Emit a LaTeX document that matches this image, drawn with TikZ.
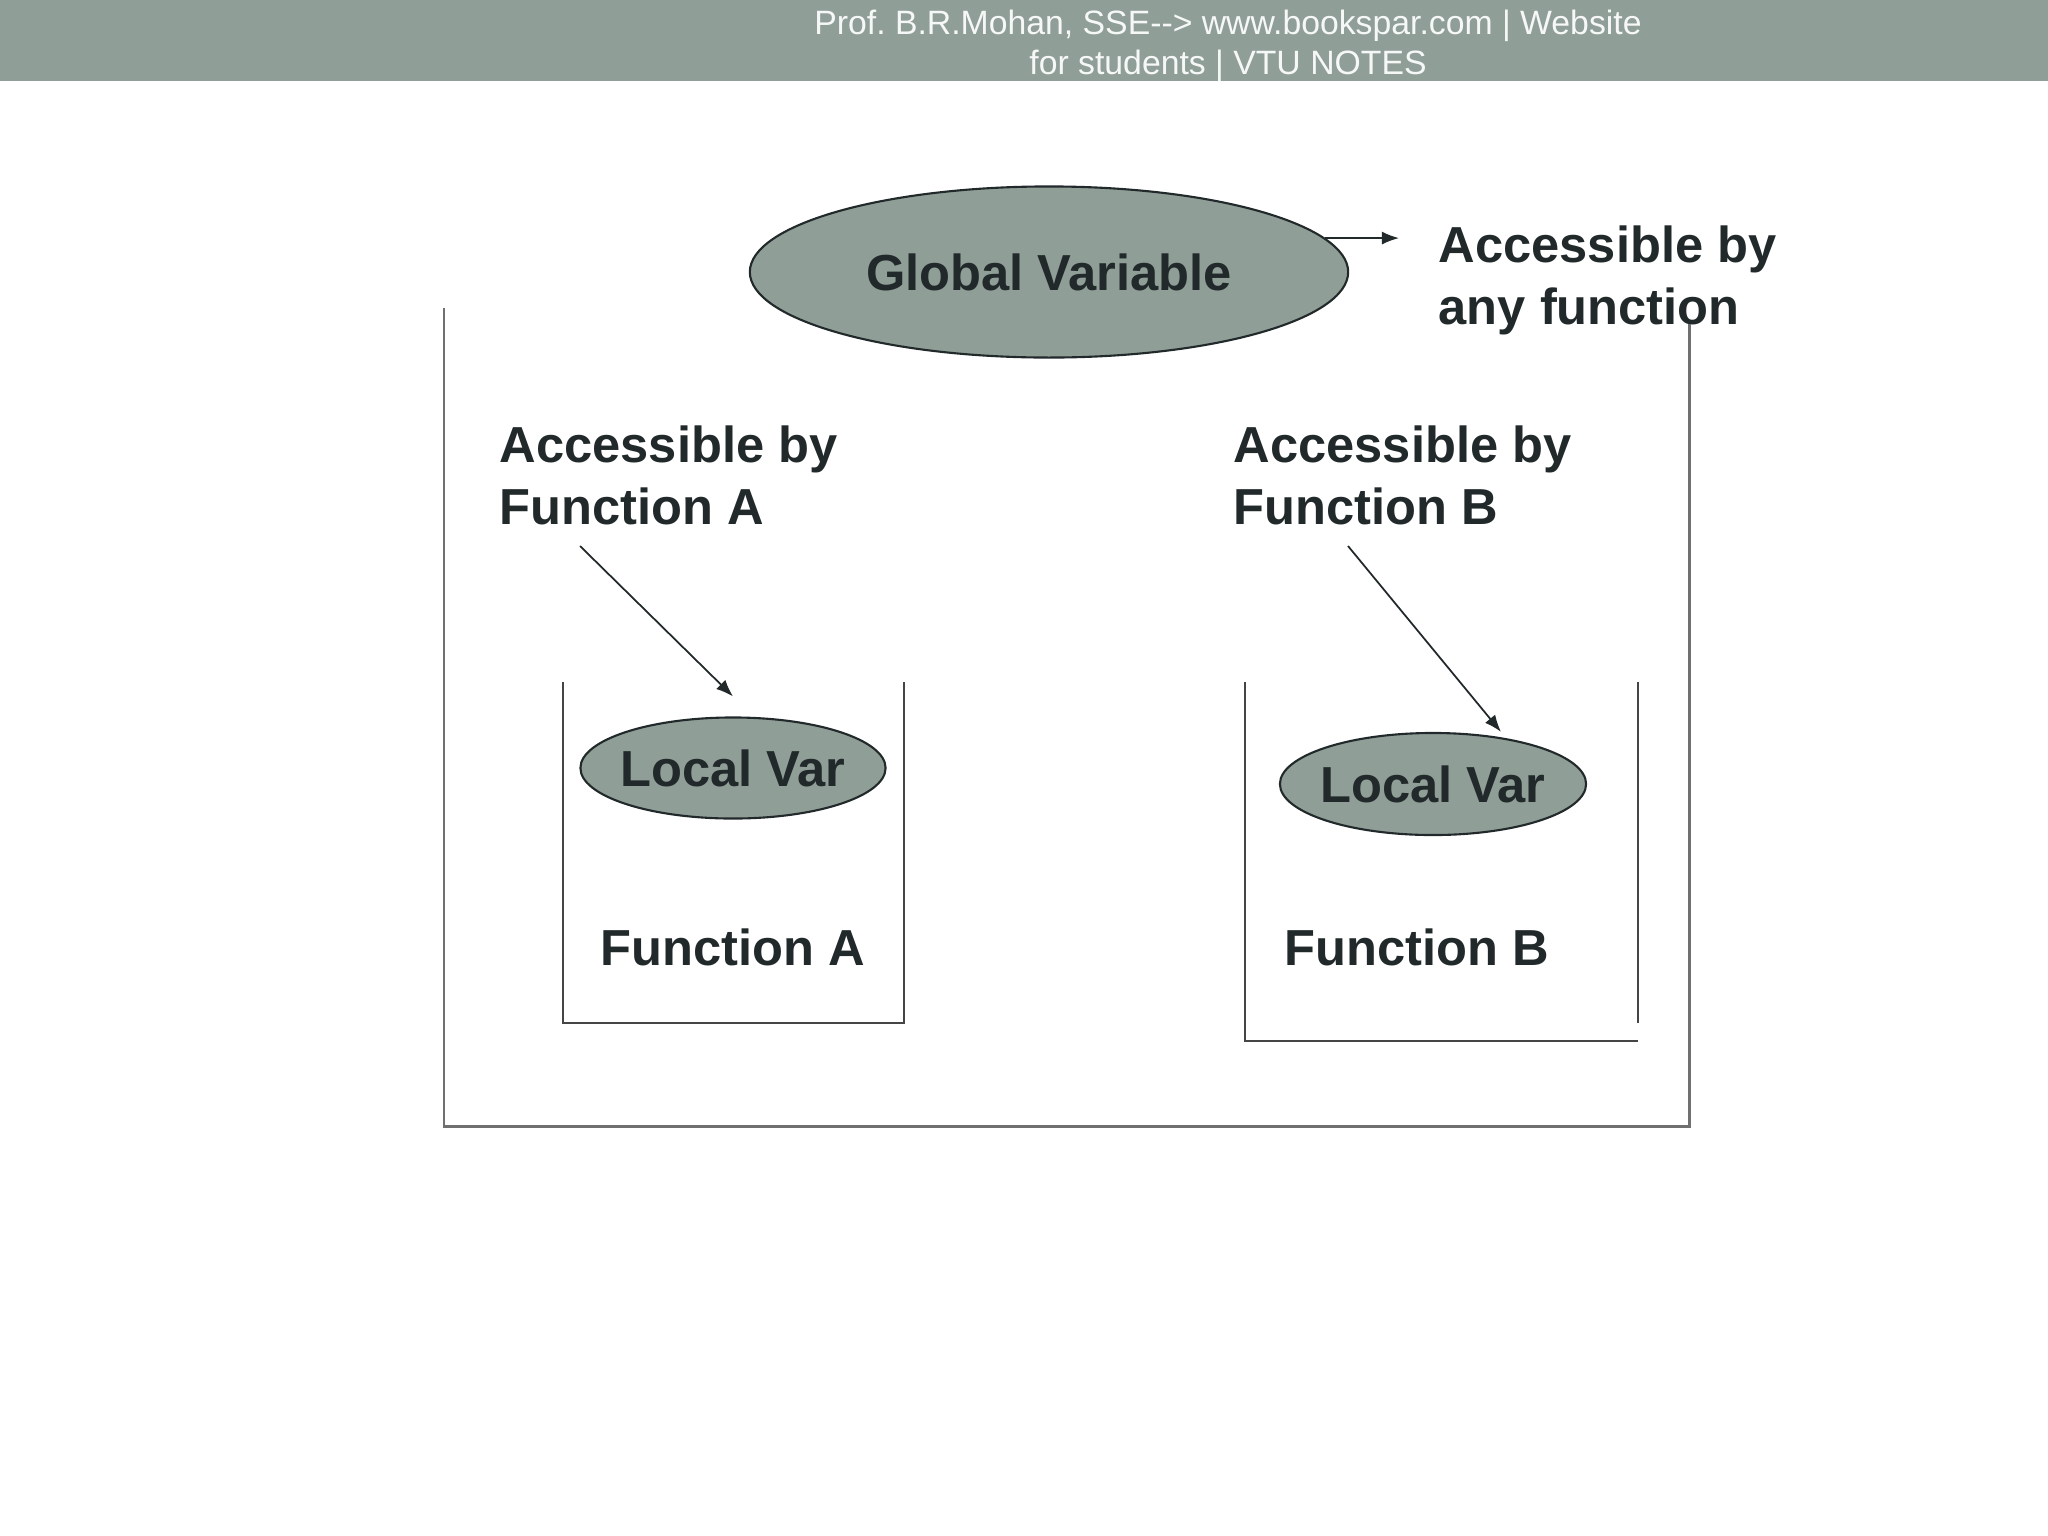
\documentclass[tikz,border=0pt]{standalone}
\usepackage{fontspec}
\setmainfont{Liberation Sans}
\usepackage{tikz}
\usetikzlibrary{arrows.meta, positioning, shapes.geometric}
\definecolor{slidegray}{HTML}{8F9E97}
\definecolor{inkdark}{HTML}{22292A}
\definecolor{framegray}{HTML}{707070}
\definecolor{boxgray}{HTML}{454545}
\frenchspacing

\begin{document}
\begin{tikzpicture}[x=0.01cm, y=-0.01cm,
  varoval/.style={ellipse, draw=inkdark, line width=0.6pt, fill=slidegray, inner sep=0pt,
    text=inkdark, font=\fontsize{14.4}{17}\selectfont\bfseries},
  lbl/.style={inner sep=0pt, align=left, text=inkdark, font=\fontsize{14.4}{17.6}\selectfont\bfseries},
  arr/.style={line width=0.5pt, inkdark, -{Latex[length=1.7mm, width=1.3mm]}},
  outerframe/.style={line width=0.85pt, framegray},
  funframe/.style={line width=0.65pt, boxgray}]
  \useasboundingbox (0,0) rectangle (2048,1536);

  % Header bar
  \fill[slidegray] (0,0) rectangle (2048,81);
  \node[text=white!92!slidegray, align=center, inner sep=0pt,
    font=\fontsize{9.6}{11.4}\selectfont] (header) at (1228,46)
    {Prof. B.R.Mohan, SSE-\kern0pt-> www.bookspar.com | Website\\for students | VTU NOTES};

  % Global variable
  \node[varoval, minimum width=5.98cm, minimum height=1.71cm] (glob) at (1049,272) {Global Variable};
  \node[lbl, anchor=west] (anyTxt) at (1438,280) {Accessible by\\any function};
  \draw[arr] (glob.7) -- ([xshift=-0.39cm]glob.7 -| anyTxt.west);

  % Outer frame
  \draw[outerframe] (444,308) |- (1689,1126) -- (1689,324);

  % Function A
  \draw[funframe] (563,682) |- (904,1023) -- (904,682);
  \node[lbl, anchor=west] (accA) at (499,475) {Accessible by\\Function A};
  \node[varoval, inner xsep=-0.1cm, minimum width=3.05cm, minimum height=1.01cm] (localA) at (733,768) {Local Var};
  \node[lbl] (funA) at (733,947) {Function A};
  \draw[arr] ([shift={(81,71)}]accA.west) -- ([shift={(0,-20)}]localA.north);

  % Function B
  \draw[funframe] (1245,682) |- (1638,1041);
  \draw[funframe] (1638,682) -- (1638,1023);
  \node[lbl, anchor=west] (accB) at (1233,475) {Accessible by\\Function B};
  \node[varoval, inner xsep=-0.1cm, minimum width=3.06cm, minimum height=1.02cm] (localB) at (1433,784) {Local Var};
  \node[lbl] (funB) at (1417,947) {Function B};
  \draw[arr] ([shift={(115,71)}]accB.west) -- ([shift={(68,0)}]localB.north);
\end{tikzpicture}
\end{document}
